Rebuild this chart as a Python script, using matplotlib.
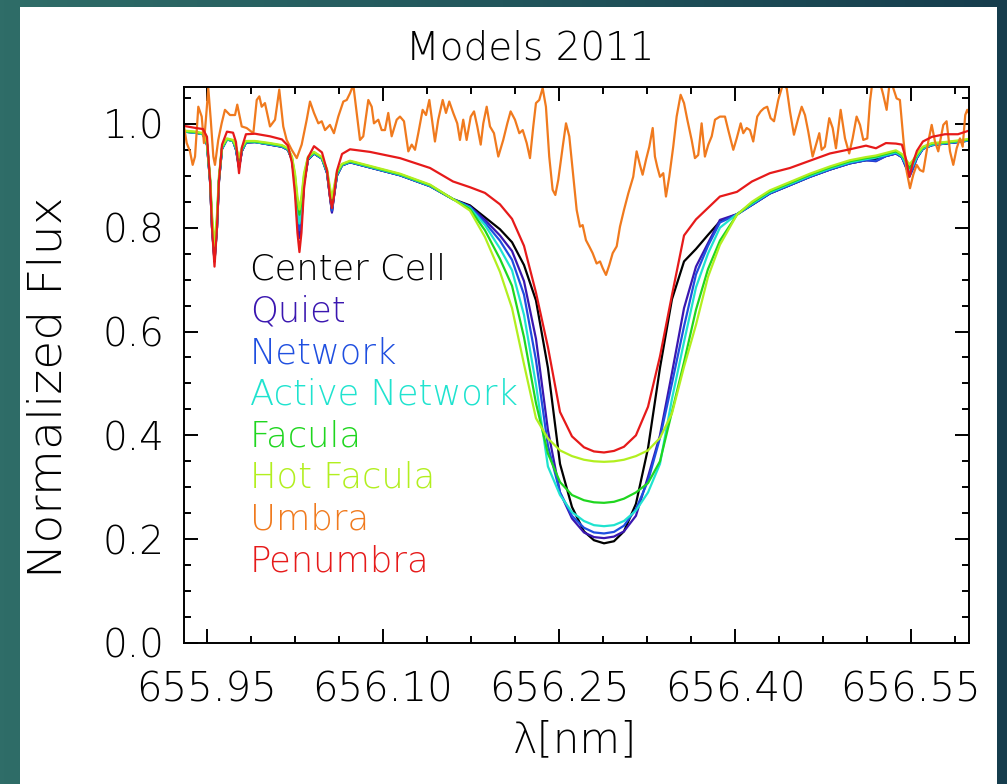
import numpy as np
import matplotlib
matplotlib.use("Agg")
import matplotlib.pyplot as plt
from matplotlib.ticker import FixedLocator, MultipleLocator, FormatStrFormatter
from matplotlib.patches import Rectangle
from matplotlib.colors import LinearSegmentedColormap

plt.rcParams['font.family'] = ['DejaVu Sans']
plt.rcParams['font.weight'] = 200

# ---------------------------------------------------------------- data
# common wavelength grid of the synthetic model spectra (nm)
wavelength_nm = [
    655.9304, 655.9406, 655.9466, 655.9500, 655.9526, 655.9543, 655.9564, 655.9585, 655.9602, 655.9628,
    655.9670, 655.9722, 655.9747, 655.9773, 655.9798, 655.9832, 655.9909, 656.0037, 656.0139, 656.0190,
    656.0224, 656.0250, 656.0271, 656.0288, 656.0305, 656.0327, 656.0361, 656.0412, 656.0480, 656.0523,
    656.0548, 656.0565, 656.0582, 656.0608, 656.0651, 656.0719, 656.0889, 656.1145, 656.1401, 656.1597,
    656.1741, 656.1869, 656.1997, 656.2100, 656.2202, 656.2304, 656.2406, 656.2509, 656.2611, 656.2713,
    656.2798, 656.2884, 656.2969, 656.3054, 656.3156, 656.3259, 656.3361, 656.3463, 656.3566, 656.3668,
    656.3770, 656.3872, 656.4017, 656.4145, 656.4298, 656.4469, 656.4639, 656.4810, 656.4980, 656.5117,
    656.5202, 656.5287, 656.5372, 656.5423, 656.5458, 656.5487, 656.5517, 656.5551, 656.5602, 656.5679,
    656.5790, 656.5901, 656.5995]

flux_center_cell = [
    0.985, 0.983, 0.980, 0.960, 0.890, 0.800, 0.735, 0.800, 0.890, 0.952,
    0.970, 0.967, 0.951, 0.917, 0.948, 0.964, 0.965, 0.960, 0.956, 0.950,
    0.931, 0.886, 0.815, 0.786, 0.815, 0.886, 0.931, 0.943, 0.933, 0.906,
    0.861, 0.831, 0.861, 0.901, 0.920, 0.926, 0.916, 0.901, 0.880, 0.855,
    0.843, 0.820, 0.797, 0.772, 0.728, 0.660, 0.530, 0.345, 0.262, 0.215,
    0.198, 0.192, 0.196, 0.215, 0.268, 0.375, 0.530, 0.662, 0.735, 0.759,
    0.786, 0.812, 0.826, 0.844, 0.866, 0.882, 0.898, 0.912, 0.924, 0.930,
    0.932, 0.938, 0.943, 0.936, 0.918, 0.902, 0.916, 0.935, 0.952, 0.959,
    0.962, 0.965, 0.968]

flux_quiet = [
    0.985, 0.983, 0.980, 0.960, 0.890, 0.800, 0.735, 0.800, 0.890, 0.952,
    0.970, 0.967, 0.950, 0.915, 0.948, 0.964, 0.965, 0.960, 0.956, 0.950,
    0.931, 0.885, 0.810, 0.780, 0.810, 0.885, 0.931, 0.943, 0.933, 0.905,
    0.860, 0.829, 0.860, 0.900, 0.920, 0.926, 0.916, 0.901, 0.880, 0.855,
    0.841, 0.815, 0.785, 0.755, 0.697, 0.586, 0.410, 0.290, 0.240, 0.213,
    0.204, 0.202, 0.205, 0.215, 0.245, 0.320, 0.400, 0.520, 0.645, 0.725,
    0.770, 0.815, 0.826, 0.844, 0.866, 0.882, 0.898, 0.912, 0.924, 0.930,
    0.928, 0.938, 0.943, 0.936, 0.916, 0.898, 0.913, 0.934, 0.952, 0.959,
    0.962, 0.965, 0.968]

flux_network = [
    0.985, 0.983, 0.980, 0.960, 0.890, 0.800, 0.738, 0.800, 0.890, 0.952,
    0.970, 0.967, 0.951, 0.917, 0.948, 0.964, 0.965, 0.960, 0.956, 0.950,
    0.932, 0.888, 0.822, 0.795, 0.822, 0.888, 0.932, 0.943, 0.933, 0.906,
    0.862, 0.833, 0.862, 0.901, 0.920, 0.926, 0.916, 0.901, 0.880, 0.855,
    0.840, 0.810, 0.775, 0.738, 0.671, 0.545, 0.380, 0.290, 0.245, 0.222,
    0.213, 0.211, 0.214, 0.226, 0.258, 0.312, 0.395, 0.500, 0.610, 0.710,
    0.765, 0.810, 0.825, 0.844, 0.866, 0.882, 0.898, 0.912, 0.924, 0.930,
    0.929, 0.938, 0.943, 0.936, 0.918, 0.900, 0.915, 0.935, 0.952, 0.959,
    0.962, 0.965, 0.968]

flux_active_network = [
    0.985, 0.983, 0.980, 0.961, 0.892, 0.808, 0.745, 0.808, 0.892, 0.953,
    0.970, 0.967, 0.953, 0.922, 0.950, 0.965, 0.965, 0.961, 0.957, 0.951,
    0.933, 0.893, 0.835, 0.808, 0.835, 0.893, 0.933, 0.944, 0.934, 0.908,
    0.866, 0.840, 0.866, 0.903, 0.921, 0.927, 0.917, 0.902, 0.881, 0.855,
    0.838, 0.805, 0.760, 0.718, 0.632, 0.498, 0.340, 0.285, 0.252, 0.235,
    0.227, 0.225, 0.227, 0.235, 0.255, 0.290, 0.345, 0.470, 0.580, 0.685,
    0.750, 0.800, 0.826, 0.846, 0.868, 0.884, 0.900, 0.914, 0.926, 0.932,
    0.935, 0.940, 0.945, 0.938, 0.922, 0.908, 0.920, 0.937, 0.953, 0.960,
    0.963, 0.966, 0.969]

flux_facula = [
    0.986, 0.984, 0.981, 0.962, 0.895, 0.815, 0.757, 0.815, 0.895, 0.955,
    0.971, 0.968, 0.955, 0.930, 0.952, 0.966, 0.966, 0.962, 0.958, 0.952,
    0.935, 0.900, 0.850, 0.825, 0.850, 0.900, 0.935, 0.945, 0.935, 0.910,
    0.872, 0.850, 0.872, 0.905, 0.922, 0.928, 0.918, 0.903, 0.882, 0.855,
    0.836, 0.795, 0.740, 0.688, 0.589, 0.462, 0.365, 0.310, 0.285, 0.275,
    0.271, 0.270, 0.272, 0.278, 0.290, 0.308, 0.350, 0.445, 0.541, 0.642,
    0.720, 0.775, 0.825, 0.848, 0.870, 0.886, 0.902, 0.916, 0.928, 0.934,
    0.937, 0.942, 0.947, 0.940, 0.928, 0.915, 0.925, 0.940, 0.955, 0.962,
    0.964, 0.967, 0.970]

flux_hot_facula = [
    0.987, 0.985, 0.982, 0.964, 0.900, 0.825, 0.765, 0.825, 0.900, 0.957,
    0.972, 0.969, 0.957, 0.935, 0.955, 0.967, 0.967, 0.963, 0.959, 0.953,
    0.937, 0.905, 0.860, 0.835, 0.860, 0.905, 0.937, 0.946, 0.936, 0.913,
    0.878, 0.857, 0.878, 0.908, 0.923, 0.929, 0.919, 0.904, 0.883, 0.855,
    0.833, 0.782, 0.715, 0.645, 0.537, 0.433, 0.394, 0.371, 0.360, 0.353,
    0.350, 0.349, 0.350, 0.353, 0.360, 0.371, 0.395, 0.442, 0.532, 0.613,
    0.705, 0.767, 0.825, 0.850, 0.872, 0.888, 0.904, 0.918, 0.930, 0.936,
    0.939, 0.944, 0.949, 0.942, 0.931, 0.922, 0.930, 0.942, 0.956, 0.963,
    0.965, 0.968, 0.971]

flux_penumbra = [
    0.996, 0.992, 0.990, 0.975, 0.890, 0.800, 0.725, 0.800, 0.890, 0.960,
    0.985, 0.983, 0.965, 0.905, 0.955, 0.980, 0.981, 0.976, 0.970, 0.958,
    0.925, 0.865, 0.790, 0.753, 0.790, 0.875, 0.935, 0.957, 0.945, 0.910,
    0.860, 0.838, 0.860, 0.910, 0.942, 0.951, 0.946, 0.934, 0.915, 0.889,
    0.878, 0.867, 0.845, 0.817, 0.765, 0.675, 0.570, 0.445, 0.398, 0.377,
    0.369, 0.367, 0.370, 0.378, 0.400, 0.455, 0.552, 0.670, 0.785, 0.816,
    0.838, 0.860, 0.869, 0.889, 0.905, 0.915, 0.929, 0.943, 0.951, 0.958,
    0.953, 0.963, 0.962, 0.960, 0.932, 0.898, 0.925, 0.948, 0.966, 0.975,
    0.980, 0.980, 0.987]

# umbra spectrum, sampled on its own wavelength points (nm)
umbra_wavelength_nm = [
    655.9304, 655.9327, 655.9355, 655.9378, 655.9398, 655.9426, 655.9455, 655.9474, 655.9497, 655.9511,
    655.9532, 655.9554, 655.9568, 655.9596, 655.9625, 655.9653, 655.9696, 655.9739, 655.9758, 655.9796,
    655.9838, 655.9895, 655.9924, 655.9946, 655.9966, 655.9994, 656.0037, 656.0080, 656.0116, 656.0150,
    656.0179, 656.0222, 656.0265, 656.0307, 656.0350, 656.0378, 656.0412, 656.0449, 656.0478, 656.0506,
    656.0548, 656.0582, 656.0619, 656.0662, 656.0691, 656.0719, 656.0747, 656.0776, 656.0804, 656.0832,
    656.0875, 656.0904, 656.0923, 656.0960, 656.0989, 656.1017, 656.1045, 656.1074, 656.1117, 656.1145,
    656.1179, 656.1216, 656.1245, 656.1273, 656.1301, 656.1338, 656.1367, 656.1395, 656.1424, 656.1443,
    656.1471, 656.1509, 656.1537, 656.1565, 656.1599, 656.1633, 656.1656, 656.1684, 656.1713, 656.1748,
    656.1776, 656.1804, 656.1833, 656.1855, 656.1884, 656.1912, 656.1946, 656.1983, 656.2025, 656.2060,
    656.2088, 656.2125, 656.2162, 656.2191, 656.2225, 656.2253, 656.2281, 656.2304, 656.2332, 656.2361,
    656.2389, 656.2417, 656.2446, 656.2469, 656.2494, 656.2532, 656.2560, 656.2588, 656.2617, 656.2651,
    656.2679, 656.2702, 656.2730, 656.2758, 656.2787, 656.2821, 656.2850, 656.2873, 656.2901, 656.2929,
    656.2958, 656.2992, 656.3020, 656.3054, 656.3091, 656.3133, 656.3162, 656.3190, 656.3213, 656.3242,
    656.3270, 656.3299, 656.3318, 656.3338, 656.3361, 656.3389, 656.3412, 656.3440, 656.3474, 656.3503,
    656.3537, 656.3566, 656.3594, 656.3631, 656.3659, 656.3687, 656.3716, 656.3744, 656.3773, 656.3802,
    656.3830, 656.3872, 656.3915, 656.3943, 656.3986, 656.4015, 656.4049, 656.4071, 656.4100, 656.4128,
    656.4156, 656.4190, 656.4219, 656.4247, 656.4275, 656.4304, 656.4333, 656.4369, 656.4407, 656.4441,
    656.4469, 656.4503, 656.4540, 656.4569, 656.4597, 656.4625, 656.4662, 656.4691, 656.4719, 656.4739,
    656.4767, 656.4804, 656.4833, 656.4861, 656.4901, 656.4938, 656.4974, 656.5003, 656.5037, 656.5066,
    656.5094, 656.5128, 656.5151, 656.5174, 656.5202, 656.5236, 656.5264, 656.5293, 656.5321, 656.5349,
    656.5378, 656.5406, 656.5435, 656.5464, 656.5492, 656.5520, 656.5549, 656.5577, 656.5605, 656.5648,
    656.5677, 656.5705, 656.5733, 656.5776, 656.5804, 656.5833, 656.5861, 656.5890, 656.5918, 656.5941,
    656.5963, 656.5980, 656.5995]

flux_umbra = [
    0.995, 0.963, 0.947, 0.921, 0.937, 1.033, 1.014, 0.963, 1.027, 1.069,
    1.008, 0.937, 0.921, 0.969, 1.001, 1.027, 1.017, 1.017, 1.037, 0.995,
    0.992, 0.982, 1.046, 1.053, 1.033, 1.040, 0.995, 1.008, 1.066, 0.995,
    0.969, 0.950, 0.934, 0.960, 1.008, 1.043, 1.021, 1.001, 1.005, 0.988,
    0.998, 0.982, 1.014, 1.043, 1.046, 1.059, 1.075, 1.021, 0.969, 0.976,
    1.046, 1.033, 1.001, 1.008, 0.988, 0.988, 1.021, 0.976, 1.008, 1.014,
    1.005, 0.947, 0.960, 0.950, 0.982, 1.027, 1.017, 1.046, 0.998, 0.966,
    1.008, 1.046, 1.021, 1.043, 1.021, 1.001, 0.969, 1.008, 0.969, 1.014,
    1.024, 0.995, 0.960, 1.001, 1.033, 0.995, 0.982, 0.937, 0.969, 1.001,
    1.024, 1.008, 0.982, 0.988, 0.963, 0.934, 0.995, 1.040, 1.046, 1.069,
    1.033, 0.937, 0.873, 0.863, 0.892, 0.956, 1.001, 0.976, 0.911, 0.834,
    0.802, 0.805, 0.776, 0.764, 0.751, 0.731, 0.735, 0.722, 0.709, 0.728,
    0.751, 0.764, 0.802, 0.834, 0.866, 0.898, 0.947, 0.921, 0.902, 0.931,
    0.956, 0.992, 0.937, 0.917, 0.898, 0.905, 0.860, 0.898, 0.956, 1.014,
    1.056, 1.040, 1.008, 0.969, 0.934, 0.940, 1.001, 0.937, 0.960, 0.976,
    1.008, 1.014, 1.014, 0.988, 0.950, 0.972, 1.001, 0.982, 0.992, 0.988,
    0.966, 1.014, 1.024, 1.030, 1.033, 1.011, 1.005, 1.046, 1.075, 1.069,
    1.024, 0.979, 1.011, 1.033, 1.017, 0.985, 0.937, 0.960, 0.982, 0.950,
    0.956, 1.011, 0.992, 0.953, 1.027, 0.972, 0.943, 0.972, 1.014, 0.998,
    0.969, 0.972, 1.043, 1.085, 1.090, 1.080, 1.056, 1.027, 1.085, 1.069,
    1.049, 1.046, 0.972, 0.908, 0.876, 0.902, 0.921, 0.911, 0.908, 0.966,
    0.998, 0.966, 0.947, 0.998, 1.005, 0.947, 0.921, 0.953, 0.972, 0.956,
    1.017, 1.027, 1.020]

model_names = ["Center Cell", "Quiet", "Network", "Active Network",
               "Facula", "Hot Facula", "Umbra", "Penumbra"]
model_colors = ["#000000", "#3a16b0", "#1f4fe0", "#1fe3cf",
                "#1fd61f", "#b2ef1f", "#f07a1e", "#e61a1a"]

x_major_ticks = [655.95, 656.10, 656.25, 656.40, 656.55]
y_major_ticks = [0.0, 0.2, 0.4, 0.6, 0.8, 1.0]

# ---------------------------------------------------------------- figure
W, H = 1007, 784
fig = plt.figure(figsize=(W / 100, H / 100), dpi=100)

# slide backdrop: teal gradient behind a white panel
bg = fig.add_axes([0, 0, 1, 1], zorder=-10)
grad = np.linspace(0, 1, 256)[None, :]
slide_cmap = LinearSegmentedColormap.from_list(
    "slide", ["#2f6d68", "#22565c", "#163d4d"])
bg.imshow(grad, aspect="auto", cmap=slide_cmap, extent=[0, 1, 0, 1])
bg.set_axis_off()
fig.add_artist(Rectangle((20 / W, 0), (997 - 20) / W, (H - 7) / H,
                         transform=fig.transFigure, facecolor="white",
                         edgecolor="none", zorder=-5))

ax = fig.add_axes([184 / W, 141 / H, 785 / W, 556 / H])
ax.set_facecolor("none")

series = [flux_center_cell, flux_quiet, flux_network, flux_active_network,
          flux_facula, flux_hot_facula, None, flux_penumbra]
for name, color, flux in zip(model_names, model_colors, series):
    if name == "Umbra":
        ax.plot(umbra_wavelength_nm, flux_umbra, color=color, lw=1.6)
    else:
        ax.plot(wavelength_nm, flux, color=color, lw=1.6)

ax.set_xlim(655.9304, 656.5995)
ax.set_ylim(0.0, 1.071)

ax.xaxis.set_major_locator(FixedLocator(x_major_ticks))
ax.xaxis.set_minor_locator(MultipleLocator(0.0375))
ax.xaxis.set_major_formatter(FormatStrFormatter("%.2f"))
ax.yaxis.set_major_locator(FixedLocator(y_major_ticks))
ax.yaxis.set_minor_locator(MultipleLocator(0.05))
ax.yaxis.set_major_formatter(FormatStrFormatter("%.1f"))

ax.tick_params(which="both", direction="in", top=True, right=True,
               width=1.4, color="black")
ax.tick_params(which="major", length=10)
ax.tick_params(which="minor", length=5)
ax.tick_params(axis="x", which="major", labelsize=29, pad=20)
ax.tick_params(axis="y", which="major", labelsize=28, pad=14)
for sp in ax.spines.values():
    sp.set_linewidth(1.4)

fig.text(530 / W, 1 - 48 / H, "Models 2011", ha="center", va="center",
         fontsize=28)
fig.text(49 / W, 1 - 387 / H, "Normalized Flux", rotation=90,
         ha="center", va="center", fontsize=34)
fig.text(575 / W, 1 - 740 / H, "λ[nm]", ha="center", va="center",
         fontsize=30)

# coloured text key
for i, (name, color) in enumerate(zip(model_names, model_colors)):
    ax.text(66 / 785, (643 - 270 - 41.6 * i) / 556, name, color=color,
            transform=ax.transAxes, ha="left", va="center", fontsize=25.5)

fig.savefig("out.png", dpi=100)
